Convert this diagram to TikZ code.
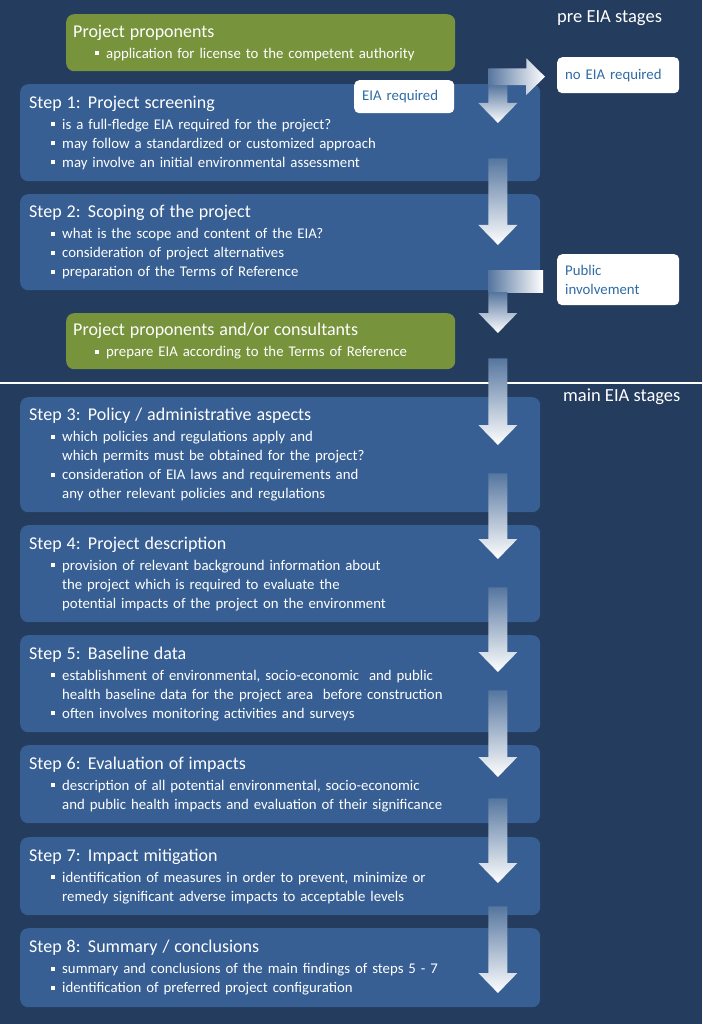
\documentclass[tikz,border=0pt]{standalone}
\usepackage{fontspec}
\setmainfont{Carlito}
\usetikzlibrary{calc}

\definecolor{bgnavy}{HTML}{243C5E}
\definecolor{stepblue}{HTML}{375F93}
\definecolor{propgreen}{HTML}{77933C}
\definecolor{notetext}{HTML}{2E6CA4}
\definecolor{arrowtop}{HTML}{56769F}
\definecolor{arrowmid}{HTML}{BCC8DA}

\newcommand\bodyfont{\fontsize{14.8}{19}\selectfont}
\newcommand\headfont{\fontsize{18}{19}\selectfont}
\newcommand\steptitle[1]{{\headfont #1}\\[2pt]}
\newcommand\bitem{\hspace*{22pt}\makebox[11pt][l]{\rule[3pt]{3.8pt}{3.8pt}}}
\newcommand\bcont{\hspace*{33pt}}
% block arrow: start (top centre), tip
\newcommand\flowarrow[2]{%
  \path (#1) coordinate (atop) (#2) coordinate (atip);
  \shade[flowshade] ($(atop)+(-9.5,0)$) -- ($(atop)+(9.5,0)$)
    -- ($(atip)+(9.5,-20)$) -- ($(atip)+(19.5,-20)$) -- (atip)
    -- ($(atip)+(-19.5,-20)$) -- ($(atip)+(-9.5,-20)$) -- cycle;}

\begin{document}
\begin{tikzpicture}[x=1pt,y=-1pt,
  stepbox/.style={fill=stepblue, rounded corners=8pt, anchor=north west,
    inner xsep=9pt, inner ysep=0pt, text width=502pt, align=left,
    text=white, font=\bodyfont},
  propbox/.style={stepbox, fill=propgreen, inner xsep=7pt, text width=375pt},
  notebox/.style={fill=white, rounded corners=5pt, anchor=north west,
    inner xsep=8pt, inner ysep=0pt, align=left, text=notetext, font=\bodyfont},
  stagelabel/.style={anchor=west, inner sep=0pt, text=white,
    font=\fontsize{18.5}{20}\selectfont},
  flowshade/.style={top color=arrowtop, middle color=arrowmid, bottom color=white},
  sideshade/.style={left color=arrowtop, right color=white}]

\useasboundingbox (0,0) rectangle (702,1024);
\fill[bgnavy] (0,0) rectangle (702,1024);

% pre EIA stages
\node[propbox, minimum height=57pt] (g1) at (66,14)
  {\steptitle{Project proponents}\bitem application for license to the competent authority};
\node[stepbox, minimum height=97pt] (s1) at (20,84)
  {\steptitle{Step 1: Project screening}
   \bitem is a full-fledge EIA required for the project?\\
   \bitem may follow a standardized or customized approach\\
   \bitem may involve an initial environmental assessment};
\node[stepbox, minimum height=96pt] (s2) at (20,194)
  {\steptitle{Step 2: Scoping of the project}
   \bitem what is the scope and content of the EIA?\\
   \bitem consideration of project alternatives\\
   \bitem preparation of the Terms of Reference};
\node[propbox, minimum height=56pt] (g2) at (66,313)
  {\steptitle{Project proponents and/or consultants}\bitem prepare EIA according to the Terms of Reference};

\draw[white, line width=2.4pt] (0,383) -- (702,383);

% main EIA stages
\node[stepbox, minimum height=115pt] (s3) at (20,397)
  {\steptitle{Step 3: Policy / administrative aspects}
   \bitem which policies and regulations apply and\\
   \bcont which permits must be obtained for the project?\\
   \bitem consideration of EIA laws and requirements and\\
   \bcont any other relevant policies and regulations};
\node[stepbox, minimum height=97pt] (s4) at (20,525)
  {\steptitle{Step 4: Project description}
   \bitem provision of relevant background information about\\
   \bcont the project which is required to evaluate the\\
   \bcont potential impacts of the project on the environment};
\node[stepbox, minimum height=97pt] (s5) at (20,635)
  {\steptitle{Step 5: Baseline data}
   \bitem establishment of environmental, socio-economic \ and public\\
   \bcont health baseline data for the project area \ before construction\\
   \bitem often involves monitoring activities and surveys};
\node[stepbox, minimum height=78pt] (s6) at (20,745)
  {\steptitle{Step 6: Evaluation of impacts}
   \bitem description of all potential environmental, socio-economic\\
   \bcont and public health impacts and evaluation of their significance};
\node[stepbox, minimum height=78pt] (s7) at (20,837)
  {\steptitle{Step 7: Impact mitigation}
   \bitem identification of measures in order to prevent, minimize or\\
   \bcont remedy significant adverse impacts to acceptable levels};
\node[stepbox, minimum height=79pt] (s8) at (20,928)
  {\steptitle{Step 8: Summary / conclusions}
   \bitem summary and conclusions of the main findings of steps 5 - 7\\
   \bitem identification of preferred project configuration};

% side notes
\node[notebox, minimum width=100pt, minimum height=33pt, text width=84pt] (eia) at (354,80) {EIA required};
\node[notebox, minimum width=122pt, minimum height=36pt, text width=106pt] (noeia) at (557,57) {no EIA required};
\node[notebox, minimum width=122pt, minimum height=51pt, text width=106pt] (pub) at (557,254) {Public\\involvement};

\node[stagelabel] (pre) at (557,18) {pre EIA stages};
\node[stagelabel] (main) at (563,397) {main EIA stages};

\coordinate (col) at ($(s1.east)+(-42.5,0)$);

% screening: branch to no EIA, down into step 1
\coordinate (e1) at ($(col |- g1.south)+(-9.5,-3)$);
\coordinate (nt) at ($(noeia.west)+(-12,1.5)$);
\coordinate (scrtip) at ($(col |- s1.north)+(0,39)$);
\shade[flowshade] ($(scrtip)+(-9.5,-38)$) -- ++(19,0) -- ++(0,18) -- ++(10,0)
  -- (scrtip) -- ++(-19.5,-20) -- ++(10,0) -- cycle;
\shade[sideshade] (e1) -- ++(38,0) -- ++(0,-10) -- (nt) -- ++(-19,18.5)
  -- ++(0,-10) -- ++(-38,0) -- cycle;

% public involvement into the EIA preparation
\coordinate (pubend) at ($(pub.west)+(-14,1.5)$);
\coordinate (pubtip) at ($(col |- g2.north)+(0,20)$);
\shade[sideshade] ($(col |- pubend)+(-9.5,-11)$) rectangle ($(pubend)+(0,11)$);
\shade[flowshade] ($(col |- pubend)+(-9.5,11)$) -- ++(19,0) -- ($(pubtip)+(9.5,-20)$)
  -- ++(10,0) -- (pubtip) -- ++(-19.5,-20) -- ++(10,0) -- cycle;

% main flow
\flowarrow{$(col |- s1.south)+(0,-23)$}{$(col |- s2.north)+(0,51)$}
\flowarrow{$(col |- g2.south)+(0,-11)$}{$(col |- s3.north)+(0,48)$}
\flowarrow{$(col |- s3.south)+(0,-39)$}{$(col |- s4.north)+(0,34)$}
\flowarrow{$(col |- s4.south)+(0,-35)$}{$(col |- s5.north)+(0,37)$}
\flowarrow{$(col |- s5.south)+(0,-42)$}{$(col |- s6.north)+(0,32)$}
\flowarrow{$(col |- s6.south)+(0,-25)$}{$(col |- s7.north)+(0,46)$}
\flowarrow{$(col |- s7.south)+(0,-9)$}{$(col |- s8.north)+(0,65)$}
\end{tikzpicture}
\end{document}
